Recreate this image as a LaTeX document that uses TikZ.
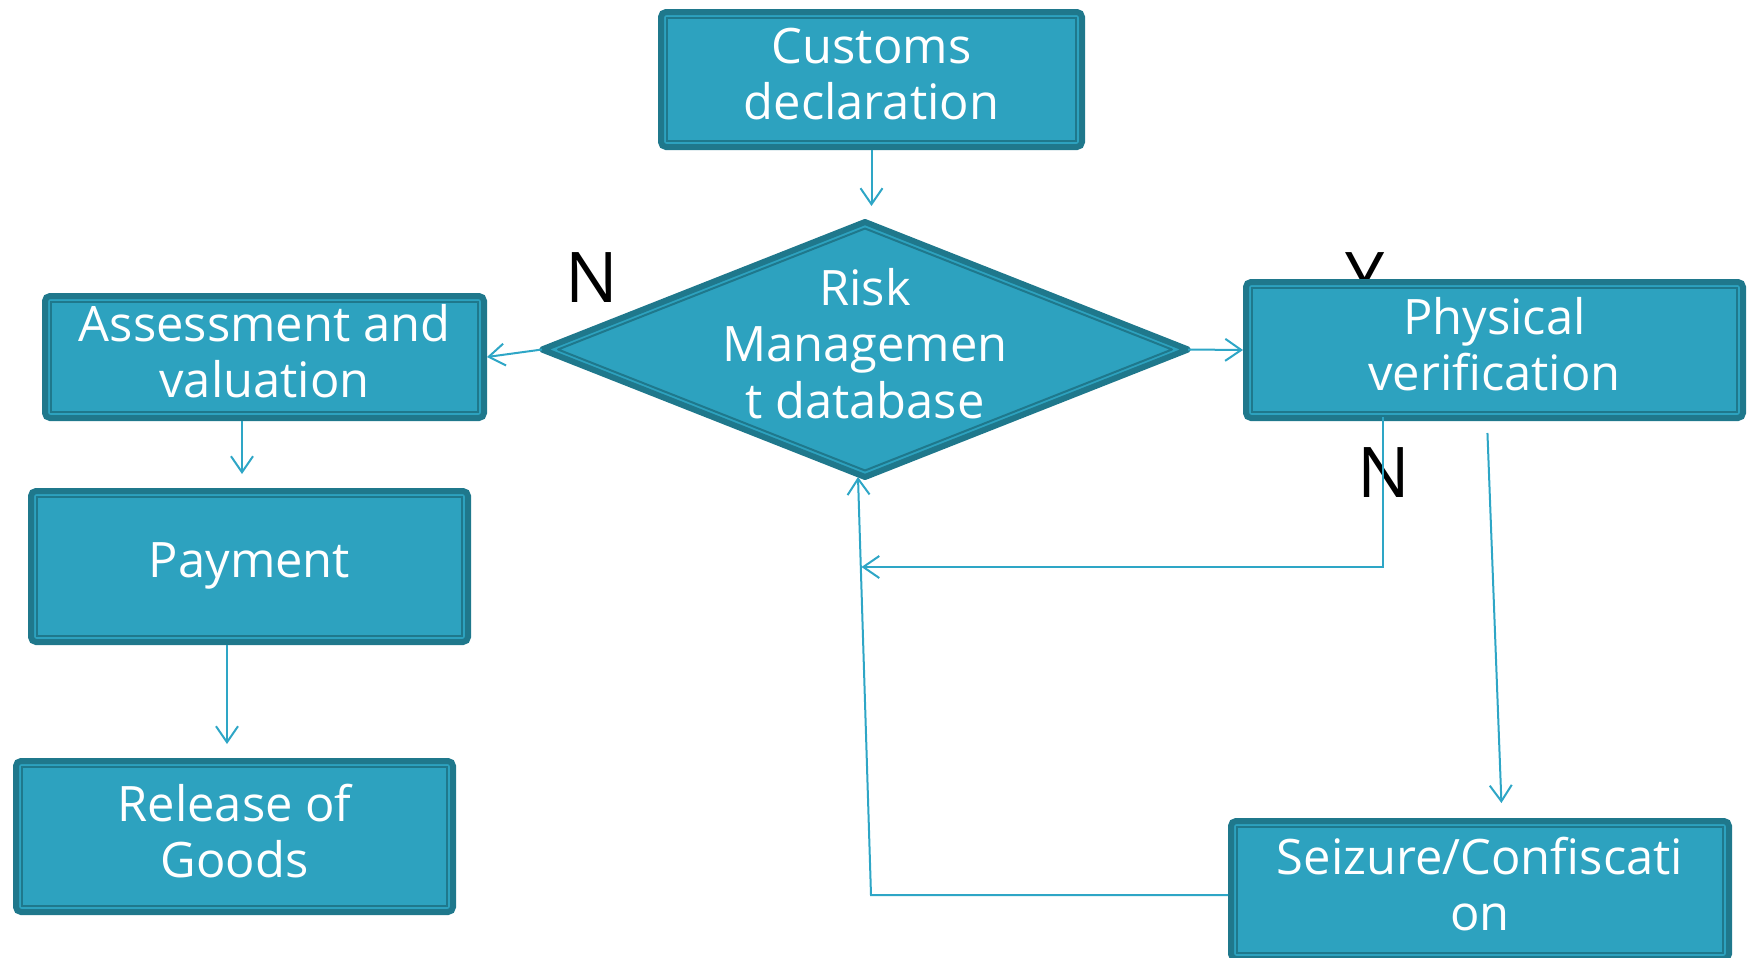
\documentclass[tikz,border=0pt]{standalone}
\usepackage{fontspec}
\setmainfont{Open Sans}
\usepackage{xcolor}
\usepackage{tikz}
\usetikzlibrary{shapes.geometric,positioning,arrows.meta}

\definecolor{stagefill}{RGB}{45,162,191}
\definecolor{stagedark}{RGB}{31,120,140}
\definecolor{flowline}{RGB}{46,166,198}

\tikzset{
  stagebox/.style={rectangle, rounded corners=0.05cm, draw=stagedark, line width=0.06cm,
    outer sep=0.03cm, fill=stagefill, text=white, align=center, inner sep=0pt,
    font=\fontsize{13.9pt}{15.9pt}\selectfont,
    execute at end node={\rule[-0.25em]{0pt}{0pt}},
    path picture={\draw[stagedark, line width=0.02cm, sharp corners]
      ([shift={(0.06,-0.06)}]path picture bounding box.north west) rectangle
      ([shift={(-0.06,0.06)}]path picture bounding box.south east);}},
  riskbox/.style={diamond, draw=stagedark, line width=0.06cm, line join=round,
    outer sep=0pt, fill=stagefill, inner sep=0pt, minimum width=6.46cm, minimum height=2.55cm,
    path picture={\draw[stagedark, line width=0.02cm, sharp corners]
      ([yshift=-0.065cm]path picture bounding box.north) --
      ([xshift=-0.16cm]path picture bounding box.east) --
      ([yshift=0.065cm]path picture bounding box.south) --
      ([xshift=0.16cm]path picture bounding box.west) -- cycle;}},
  risktext/.style={text=white, align=center, inner sep=0pt, font=\fontsize{13.9pt}{16.2pt}\selectfont,
    execute at end node={\rule[-0.25em]{0pt}{0pt}}},
  answer/.style={inner sep=0pt, anchor=north, font=\fontsize{19.9pt}{20pt}\selectfont},
  flow/.style={->, >={Straight Barb[length=0.16cm,width=0.22cm]}, draw=flowline, line width=0.02cm}
}

\begin{document}
\begin{tikzpicture}
        \useasboundingbox (0,0) rectangle (17.54,-9.58);

        \node[answer] (yes) at (13.65,-2.52) {Y};
        \node[answer] (noleft) at (5.915,-2.52) {N};
        \node[answer] (noright) at (13.835,-4.47) {N};

        \node[stagebox, minimum width=4.21cm, minimum height=1.35cm] (decl) at (8.715,-0.795) {Customs\\declaration};
        \node[riskbox, label={[risktext]center:Risk\\Managemen\\t database}] (risk) at (8.65,-3.495) {};
        \node[stagebox, minimum width=4.39cm, minimum height=1.22cm] (assess) at (2.645,-3.57) {Assessment and\\valuation};
        \node[stagebox, minimum width=4.37cm, minimum height=1.51cm] (pay) [below=0.67cm of assess, xshift=-0.15cm] {Payment};
        \node[stagebox, minimum width=4.37cm, minimum height=1.51cm] (release) [below=1.13cm of pay, xshift=-0.15cm] {Release of\\Goods};
        \node[stagebox, minimum width=4.97cm, minimum height=1.36cm] (phys) at (14.945,-3.5) {Physical\\verification};
        \node[stagebox, minimum width=4.98cm, minimum height=1.38cm] (seize) [below=3.97cm of phys, xshift=-0.145cm] {Seizure/Confiscati\\on};

        \coordinate (back) at (8.71,-8.95);
        \coordinate (join) at (8.615,-5.67);

        \draw[flow, shorten >=0.16cm] (decl.south) -- (decl.south |- risk.north);
        \draw[flow] (risk.west) -- (assess.east);
        \draw[flow] (risk.east) -- (phys.west);
        \draw[flow, shorten >=0.14cm] ([xshift=-0.225cm]assess.south) -- ([xshift=-0.225cm]assess.south |- pay.north);
        \draw[flow, shorten >=0.14cm] ([xshift=-0.225cm]pay.south) -- ([xshift=-0.225cm]pay.south |- release.north);
        \draw[flow, shorten <=0.12cm, shorten >=0.15cm] ([xshift=-0.075cm]phys.south) -- ([xshift=0.22cm]seize.north);
        \draw[flow] ([xshift=-1.115cm, yshift=0.04cm]phys.south) |- (join);
        \draw[flow] (back -| seize.west) -- (back) -- ([xshift=-0.07cm]risk.south);
\end{tikzpicture}
\end{document}
